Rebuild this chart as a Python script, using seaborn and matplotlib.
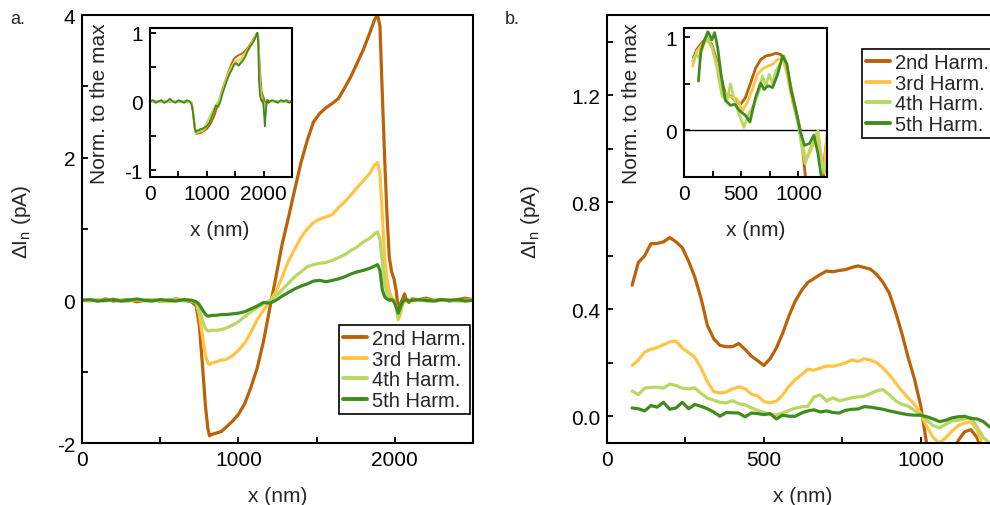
import numpy as np
import pandas as pd
import matplotlib
matplotlib.use("Agg")
import matplotlib.pyplot as plt
from matplotlib.ticker import MultipleLocator, FormatStrFormatter
from matplotlib.lines import Line2D
import seaborn as sns

# ---------------- data: panel a (x in nm, dI in pA) ----------------
xa = [0, 50, 100, 150, 200, 250, 300, 350, 400, 450, 500, 550, 600, 650, 700,
      730, 750, 770, 790, 805, 815, 830, 860, 890, 920, 960, 1000, 1040, 1080,
      1120, 1160, 1200, 1240, 1280, 1320, 1360, 1400, 1440, 1480, 1520, 1560,
      1600, 1640, 1680, 1720, 1760, 1800, 1840, 1870, 1890, 1905, 1920, 1935,
      1950, 1965, 1980, 1995, 2010, 2022, 2035, 2050, 2062, 2075, 2090, 2110,
      2150, 2200, 2250, 2300, 2350, 2400, 2450, 2500]
a_2nd = [0.00, 0.01, -0.01, 0.02, -0.01, 0.00, 0.01, -0.02, 0.00, 0.01, -0.01, 0.00, 0.02, 0.00, -0.02,
         -0.08, -0.35, -0.90, -1.50, -1.80, -1.90, -1.88, -1.86, -1.84, -1.78, -1.70, -1.60, -1.45, -1.22,
         -0.95, -0.58, -0.12, 0.33, 0.79, 1.16, 1.55, 1.93, 2.24, 2.50, 2.62, 2.70,
         2.76, 2.83, 2.98, 3.14, 3.33, 3.52, 3.75, 3.93, 4.00, 3.85, 2.90, 2.00,
         1.20, 0.60, 0.40, 0.30, 0.12, -0.15, -0.05, 0.02, 0.09, 0.00, -0.03, 0.02,
         0.01, 0.03, 0.00, 0.01, -0.01, 0.01, 0.03, 0.01]
a_3rd = [0.00, -0.01, 0.01, 0.00, 0.02, -0.01, 0.00, 0.01, -0.01, 0.00, 0.01, -0.02, 0.00, 0.01, -0.01,
         -0.03, -0.20, -0.50, -0.78, -0.88, -0.90, -0.88, -0.86, -0.84, -0.83, -0.78, -0.70, -0.60, -0.45,
         -0.27, -0.14, -0.02, 0.12, 0.33, 0.55, 0.72, 0.88, 1.00, 1.09, 1.14, 1.17,
         1.20, 1.30, 1.38, 1.48, 1.58, 1.68, 1.78, 1.90, 1.93, 1.78, 1.20, 0.60,
         0.30, 0.12, 0.04, 0.00, -0.10, -0.27, -0.20, -0.05, -0.02, 0.00, 0.01, -0.01,
         0.00, 0.01, -0.01, 0.00, 0.01, -0.01, 0.00, 0.01]
a_4th = [0.00, 0.01, 0.00, -0.01, 0.01, 0.00, -0.01, 0.01, 0.00, 0.01, -0.01, 0.00, 0.01, -0.01, 0.00,
         -0.02, -0.12, -0.28, -0.40, -0.43, -0.43, -0.42, -0.42, -0.41, -0.39, -0.35, -0.30, -0.23, -0.16,
         -0.10, -0.05, 0.00, 0.06, 0.15, 0.24, 0.33, 0.40, 0.47, 0.50, 0.52, 0.53,
         0.56, 0.60, 0.64, 0.70, 0.75, 0.82, 0.87, 0.93, 0.96, 0.85, 0.55, 0.25,
         0.10, 0.03, 0.02, 0.00, -0.10, -0.25, -0.15, -0.03, 0.00, 0.01, -0.01, 0.00,
         0.01, -0.01, 0.00, 0.01, 0.00, -0.01, 0.00, 0.00]
a_5th = [0.00, 0.01, -0.01, 0.00, 0.01, -0.01, 0.00, 0.02, 0.00, -0.01, 0.01, 0.00, -0.01, 0.01, 0.00,
         -0.02, -0.06, -0.13, -0.20, -0.22, -0.22, -0.21, -0.21, -0.20, -0.20, -0.19, -0.18, -0.16, -0.12,
         -0.08, -0.03, -0.04, 0.00, 0.06, 0.11, 0.16, 0.20, 0.23, 0.27, 0.28, 0.26,
         0.28, 0.30, 0.33, 0.37, 0.40, 0.42, 0.45, 0.48, 0.50, 0.42, 0.15, 0.05,
         0.02, 0.00, 0.01, -0.02, -0.10, -0.18, -0.10, -0.02, 0.00, 0.01, -0.01, 0.00,
         0.01, 0.00, -0.01, 0.01, 0.00, 0.01, -0.01, 0.00]

# ---------------- data: panel b main ----------------
xb = [80, 100, 120, 140, 160, 180, 200, 220, 240, 260, 280, 300, 320, 340, 360,
      380, 400, 420, 440, 460, 480, 500, 520, 540, 560, 580, 600, 620, 640, 660,
      680, 700, 720, 740, 760, 780, 800, 820, 840, 860, 880, 900, 920, 940, 960,
      980, 1000, 1020, 1040, 1060, 1080, 1100, 1120, 1140, 1160, 1180, 1200, 1220, 1240]
b_2nd = [0.49, 0.575, 0.60, 0.645, 0.646, 0.652, 0.668, 0.652, 0.63, 0.58, 0.52, 0.44, 0.34, 0.29, 0.265,
         0.26, 0.26, 0.272, 0.25, 0.225, 0.208, 0.19, 0.215, 0.255, 0.31, 0.375, 0.43, 0.47, 0.50, 0.515,
         0.53, 0.543, 0.54, 0.545, 0.548, 0.556, 0.562, 0.556, 0.55, 0.53, 0.50, 0.46, 0.39, 0.31, 0.22,
         0.14, 0.04, -0.11, -0.16, -0.19, -0.18, -0.14, -0.09, -0.058, -0.05, -0.08, -0.15, -0.20, -0.22]
b_3rd = [0.19, 0.21, 0.24, 0.25, 0.257, 0.267, 0.278, 0.281, 0.255, 0.238, 0.22, 0.18, 0.13, 0.092, 0.087,
         0.09, 0.102, 0.11, 0.103, 0.083, 0.076, 0.055, 0.05, 0.056, 0.08, 0.112, 0.137, 0.155, 0.176, 0.172,
         0.18, 0.188, 0.187, 0.192, 0.20, 0.21, 0.205, 0.215, 0.21, 0.20, 0.18, 0.155, 0.125, 0.095, 0.069,
         0.045, 0.01, -0.04, -0.08, -0.10, -0.08, -0.055, -0.035, -0.025, -0.02, -0.05, -0.12, -0.15, -0.15]
b_4th = [0.094, 0.081, 0.105, 0.108, 0.109, 0.105, 0.12, 0.115, 0.105, 0.102, 0.106, 0.085, 0.068, 0.06, 0.052,
         0.05, 0.058, 0.047, 0.043, 0.032, 0.022, 0.015, 0.007, 0.005, 0.012, 0.022, 0.03, 0.035, 0.037, 0.072,
         0.08, 0.057, 0.069, 0.058, 0.063, 0.069, 0.072, 0.075, 0.085, 0.095, 0.10, 0.08, 0.058, 0.045, 0.038,
         0.022, 0.005, -0.015, -0.035, -0.043, -0.03, -0.018, -0.015, -0.01, -0.005, -0.04, -0.08, -0.10, -0.11]
b_5th = [0.031, 0.028, 0.02, 0.04, 0.034, 0.052, 0.026, 0.031, 0.052, 0.028, 0.044, 0.037, 0.028, 0.016, 0.0,
         0.014, 0.013, 0.012, -0.002, 0.012, 0.01, 0.006, 0.01, -0.01, 0.004, 0.0, 0.0, 0.012, 0.02, 0.024,
         0.016, 0.02, 0.014, 0.012, 0.022, 0.026, 0.027, 0.036, 0.034, 0.03, 0.026, 0.02, 0.015, 0.01, 0.006,
         0.004, 0.004, -0.002, -0.01, -0.02, -0.015, -0.006, -0.002, 0.0, -0.008, -0.01, -0.02, -0.04, -0.045]

# ---------------- data: panel b inset (normalised to the max) ----------------
ib_x_2nd = [82, 112, 156, 200, 244, 288, 332, 362, 406, 450, 494, 538, 582, 626, 670, 715, 759,
            803, 847, 891, 935, 979, 1018, 1045, 1070, 1215, 1230, 1250]
ib_2nd = [0.78, 0.87, 0.94, 1.0, 0.92, 0.745, 0.53, 0.39, 0.37, 0.32, 0.28, 0.355, 0.51, 0.67, 0.76, 0.80, 0.81,
          0.83, 0.815, 0.73, 0.46, 0.21, 0.0, -0.3, -0.6, -0.6, -0.28, -0.07]
ib_x_3rd = [76, 112, 156, 200, 244, 288, 332, 376, 421, 465, 509, 553, 597, 641, 685, 729, 774, 818,
            862, 906, 950, 994, 1029, 1068, 1112, 1156, 1194, 1224, 1250]
ib_3rd = [0.69, 0.85, 0.92, 0.975, 0.89, 0.71, 0.44, 0.37, 0.355, 0.34, 0.21, 0.30, 0.44, 0.60, 0.66, 0.69, 0.71, 0.76,
          0.78, 0.57, 0.30, 0.11, -0.11, -0.32, -0.21, -0.035, -0.28, -0.43, -0.05]
ib_x_4th = [76, 106, 135, 171, 206, 244, 288, 332, 376, 406, 435, 479, 524, 568, 612, 656, 685, 715, 744,
            774, 803, 847, 876, 906, 950, 994, 1024, 1059, 1097, 1135, 1171, 1200, 1229, 1250]
ib_4th = [0.745, 0.82, 0.78, 0.92, 0.99, 0.90, 0.67, 0.37, 0.32, 0.50, 0.355, 0.18, 0.035, 0.18, 0.28, 0.425, 0.585,
          0.48, 0.60, 0.50, 0.64, 0.73, 0.80, 0.64, 0.32, 0.09, -0.14, -0.355, -0.21, -0.11, 0.0, -0.28, -0.46, -0.3]
ib_x_5th = [126, 147, 176, 209, 244, 268, 294, 324, 362, 406, 444, 488, 538, 576, 626, 670, 700, 735, 774,
            818, 862, 900, 935, 979, 1018, 1053, 1097, 1135, 1171, 1200, 1215]
ib_5th = [0.53, 0.85, 0.96, 1.06, 0.975, 1.05, 0.89, 0.60, 0.32, 0.27, 0.28, 0.21, 0.16, 0.09, 0.355, 0.51, 0.44,
          0.48, 0.46, 0.60, 0.80, 0.71, 0.44, 0.21, -0.02, -0.16, -0.14, -0.05, -0.25, -0.5, -0.6]

labels = ["2nd Harm.", "3rd Harm.", "4th Harm.", "5th Harm."]
colors = ["#BB6208", "#FFC444", "#B8D862", "#3F8C1E"]

# ---------------- style ----------------
sns.set_style("ticks")
plt.rcParams["font.family"] = ["Liberation Sans", "DejaVu Sans"]
plt.rcParams["mathtext.default"] = "regular"
plt.rcParams["axes.unicode_minus"] = False
plt.rcParams["axes.linewidth"] = 1.5
FS = 15
LFS = 14.5

fig = plt.figure(figsize=(9.9, 5.06), dpi=100)
W, H = 990.0, 506.0


def add_ax(l, r, t, b):
    return fig.add_axes([l / W, 1 - b / H, (r - l) / W, (b - t) / H])


def style_ax(ax, fs=FS):
    for s in ax.spines.values():
        s.set_linewidth(1.5)
        s.set_color("black")
    ax.tick_params(which="both", direction="in", length=4.5, width=1.3, pad=5,
                   labelsize=fs, colors="black", top=False, right=False)
    ax.set_facecolor("white")


def draw(ax, xs, ys, lw):
    for x, y, c, lab in zip(xs, ys, colors, labels):
        df = pd.DataFrame({"x": x, "y": y})
        sns.lineplot(data=df, x="x", y="y", ax=ax, color=c, lw=lw, sort=False,
                     estimator=None, legend=False)
    ax.set_xlabel("")
    ax.set_ylabel("")


def make_legend(ax, x0, y0, handles):
    leg = ax.legend(handles, labels, loc="upper left", bbox_to_anchor=(x0 / W, 1 - y0 / H),
                    bbox_transform=fig.transFigure, frameon=True, fancybox=False,
                    edgecolor="black", framealpha=1, fontsize=LFS, handlelength=1.2,
                    handletextpad=0.22, labelspacing=0.08, borderpad=0.2, borderaxespad=0,
                    borderaxespad_=None) if False else ax.legend(
                    handles, labels, loc="upper left", bbox_to_anchor=(x0 / W, 1 - y0 / H),
                    bbox_transform=fig.transFigure, frameon=True, fancybox=False,
                    edgecolor="black", framealpha=1, fontsize=LFS, handlelength=1.2,
                    handletextpad=0.22, labelspacing=0.08, borderpad=0.2, borderaxespad=0)
    leg.get_frame().set_linewidth(1.2)
    return leg


handles = [Line2D([], [], color=c, lw=2.8) for c in colors]

# ---------------- panel a main ----------------
axa = add_ax(82, 473, 16, 444)
draw(axa, [xa] * 4, [a_2nd, a_3rd, a_4th, a_5th], 2.3)
axa.set_xlim(0, 2500)
axa.set_ylim(-2, 4)
axa.xaxis.set_major_locator(MultipleLocator(1000))
axa.xaxis.set_minor_locator(MultipleLocator(500))
axa.yaxis.set_major_locator(MultipleLocator(2))
axa.yaxis.set_minor_locator(MultipleLocator(1))
style_ax(axa)
axa.set_xlabel("x (nm)", fontsize=FS)
axa.set_ylabel("ΔI$_{n}$ (pA)", fontsize=FS)
axa.xaxis.set_label_coords(0.5, -0.1)
axa.yaxis.set_label_coords(-0.125, 0.52)
make_legend(axa, 339, 326, handles)

# ---------------- panel a inset ----------------
axai = add_ax(150, 292, 29, 178)
norm_a = [np.array(v) / max(v) for v in (a_2nd, a_3rd, a_4th, a_5th)]
draw(axai, [xa] * 4, norm_a, 1.3)
axai.set_xlim(0, 2500)
axai.set_ylim(-1.1, 1.07)
axai.xaxis.set_major_locator(MultipleLocator(1000))
axai.xaxis.set_minor_locator(MultipleLocator(500))
axai.yaxis.set_major_locator(MultipleLocator(1))
axai.yaxis.set_minor_locator(MultipleLocator(0.5))
style_ax(axai)
axai.set_xlabel("x (nm)", fontsize=FS)
axai.set_ylabel("Norm. to the max", fontsize=FS)
axai.xaxis.set_label_coords(0.49, -0.29)
axai.yaxis.set_label_coords(-0.29, 0.5)

# ---------------- panel b main ----------------
axb = add_ax(607, 990, 16, 444)
draw(axb, [xb] * 4, [b_2nd, b_3rd, b_4th, b_5th], 2.3)
axb.set_xlim(0, 1221)
axb.set_ylim(-0.1, 1.5)
axb.xaxis.set_major_locator(MultipleLocator(500))
axb.xaxis.set_minor_locator(MultipleLocator(250))
axb.yaxis.set_major_locator(MultipleLocator(0.4))
axb.yaxis.set_minor_locator(MultipleLocator(0.2))
axb.yaxis.set_major_formatter(FormatStrFormatter("%.1f"))
style_ax(axb)
axb.spines["right"].set_visible(False)
axb.set_xlabel("x (nm)", fontsize=FS)
axb.set_ylabel("ΔI$_{n}$ (pA)", fontsize=FS)
axb.xaxis.set_label_coords(0.51, -0.1)
axb.yaxis.set_label_coords(-0.17, 0.52)
make_legend(axb, 862, 50, handles)

# ---------------- panel b inset ----------------
axbi = add_ax(684, 827, 29, 178)
draw(axbi, [ib_x_2nd, ib_x_3rd, ib_x_4th, ib_x_5th], [ib_2nd, ib_3rd, ib_4th, ib_5th], 2.0)
axbi.axhline(0, color="black", lw=1.0, zorder=0)
axbi.set_xlim(0, 1250)
axbi.set_ylim(-0.5, 1.1)
axbi.xaxis.set_major_locator(MultipleLocator(500))
axbi.xaxis.set_minor_locator(MultipleLocator(250))
axbi.yaxis.set_major_locator(MultipleLocator(1))
axbi.yaxis.set_minor_locator(MultipleLocator(0.5))
style_ax(axbi)
axbi.set_xlabel("x (nm)", fontsize=FS)
axbi.set_ylabel("Norm. to the max", fontsize=FS)
axbi.xaxis.set_label_coords(0.5, -0.29)
axbi.yaxis.set_label_coords(-0.3, 0.5)

# panel letters
fig.text(10 / W, 1 - 19 / H, "a.", fontsize=13, va="center", ha="left")
fig.text(505 / W, 1 - 19 / H, "b.", fontsize=13, va="center", ha="left")

fig.savefig("out.png", dpi=100)
